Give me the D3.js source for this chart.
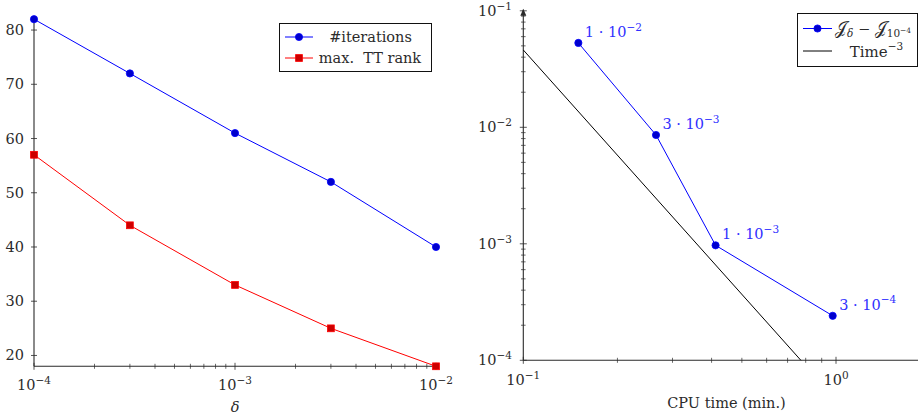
<!DOCTYPE html>
<html>
<head>
<meta charset="utf-8">
<script src="https://cdn.jsdelivr.net/npm/d3@7"></script>
<style>
  html, body { margin: 0; padding: 0; background: #fff; }
  svg { display: block; }
</style>
</head>
<body>
<svg id="chart" width="918" height="416" font-family="'DejaVu Serif', 'Liberation Serif', serif"></svg>
<script>
// ---- left panel: iterations and TT rank vs. tolerance delta ----
const deltas = [1e-4, 3e-4, 1e-3, 3e-3, 1e-2];
const iterations = [82, 72, 61, 52, 40];
const maxRank = [57, 44, 33, 25, 18];
const leftYTicks = [20, 30, 40, 50, 60, 70, 80];
const leftXTicks = [1e-4, 1e-3, 1e-2];

// ---- right panel: error vs. CPU time ----
const cpuTime = [0.150, 0.2657, 0.412, 0.976];
const errorVals = [0.053, 0.00859, 0.00097, 0.000241];
const pointMantissa = ["1", "3", "1", "3"];
const pointExponent = ["−2", "−3", "−3", "−4"];
const refTime = [0.1, 0.772];        // Time^-3 reference line endpoints
const refVal = [0.0461, 0.0001];
const rightXTicks = [0.1, 1];
const rightYTicks = [1e-4, 1e-3, 1e-2, 1e-1];

const svg = d3.select("#chart");
const blue = "#0000ff", blueFill = "#0000cc";
const red = "#ff0000", redFill = "#cc0000";
const axisCol = "#2a2a2a";
const txtCol = "#2b2b2b";
const FS = 14.5, SUP = 10.5;

function expLabel(sel, base, exp, size, supSize) {
  sel.append("tspan").attr("font-size", size).text(base);
  sel.append("tspan").attr("font-size", supSize).attr("dy", -size * 0.42).text(exp);
}

// ======== LEFT ========
const xL = d3.scaleLog().domain([1e-4, 1e-2]).range([34, 436]);
const yL = d3.scaleLinear().domain([18, 82]).range([366.3, 19.2]);
const gL = svg.append("g").attr("fill", txtCol);

gL.append("line").attr("x1", xL(1e-4)).attr("x2", xL(1e-4)).attr("y1", yL(82)).attr("y2", yL(18))
  .attr("stroke", axisCol).attr("stroke-width", 1.1);
gL.append("line").attr("x1", xL(1e-4)).attr("x2", xL(1e-2)).attr("y1", yL(18)).attr("y2", yL(18))
  .attr("stroke", axisCol).attr("stroke-width", 1.1);

leftYTicks.forEach(v => {
  gL.append("line").attr("x1", xL(1e-4) - 3).attr("x2", xL(1e-4) + 3).attr("y1", yL(v)).attr("y2", yL(v))
    .attr("stroke", axisCol).attr("stroke-width", 0.8);
  gL.append("text").attr("x", 24).attr("y", yL(v) + 5).attr("text-anchor", "end")
    .attr("font-size", FS).text(v);
});
const minorL = [];
[1e-4, 1e-3].forEach(d => { for (let k = 2; k <= 9; k++) minorL.push(d * k); });
minorL.forEach(v => {
  gL.append("line").attr("x1", xL(v)).attr("x2", xL(v)).attr("y1", yL(18) - 2.5).attr("y2", yL(18) + 2.5)
    .attr("stroke", axisCol).attr("stroke-width", 0.7);
});
leftXTicks.forEach(v => {
  gL.append("line").attr("x1", xL(v)).attr("x2", xL(v)).attr("y1", yL(18) - 3.5).attr("y2", yL(18) + 3.5)
    .attr("stroke", axisCol).attr("stroke-width", 0.8);
  const t = gL.append("text").attr("x", xL(v)).attr("y", 390).attr("text-anchor", "middle");
  expLabel(t, "10", "−" + Math.round(-Math.log10(v)), FS, SUP);
});
gL.append("text").attr("x", xL(1e-3)).attr("y", 412).attr("text-anchor", "middle")
  .attr("font-size", FS).attr("font-style", "italic").text("δ");

const lineL = (ys) => d3.line().x((d, i) => xL(deltas[i])).y(d => yL(d))(ys);
gL.append("path").attr("d", lineL(iterations)).attr("fill", "none").attr("stroke", blue).attr("stroke-width", 1);
gL.append("path").attr("d", lineL(maxRank)).attr("fill", "none").attr("stroke", red).attr("stroke-width", 1);
gL.selectAll("circle.it").data(iterations).join("circle")
  .attr("cx", (d, i) => xL(deltas[i])).attr("cy", d => yL(d)).attr("r", 3.6)
  .attr("fill", blueFill).attr("stroke", blue).attr("stroke-width", 0.8);
gL.selectAll("rect.rk").data(maxRank).join("rect")
  .attr("x", (d, i) => xL(deltas[i]) - 3.4).attr("y", d => yL(d) - 3.4)
  .attr("width", 6.8).attr("height", 6.8)
  .attr("fill", redFill).attr("stroke", red).attr("stroke-width", 0.8);

const lgL = gL.append("g");
lgL.append("rect").attr("x", 279.5).attr("y", 23.5).attr("width", 152).attr("height", 48)
  .attr("fill", "#fff").attr("stroke", "#111").attr("stroke-width", 1);
lgL.append("line").attr("x1", 285).attr("x2", 313).attr("y1", 37).attr("y2", 37).attr("stroke", blue);
lgL.append("circle").attr("cx", 299).attr("cy", 37).attr("r", 3.6).attr("fill", blueFill).attr("stroke", blue).attr("stroke-width", 0.8);
lgL.append("text").attr("x", 370.5).attr("y", 42).attr("text-anchor", "middle").attr("font-size", FS).attr("fill", txtCol).text("#iterations");
lgL.append("line").attr("x1", 285).attr("x2", 313).attr("y1", 58).attr("y2", 58).attr("stroke", red);
lgL.append("rect").attr("x", 295.6).attr("y", 54.6).attr("width", 6.8).attr("height", 6.8).attr("fill", redFill).attr("stroke", red).attr("stroke-width", 0.8);
lgL.append("text").attr("x", 370).attr("y", 63).attr("text-anchor", "middle").attr("font-size", FS).attr("fill", txtCol)
  .style("white-space", "pre").text("max.  TT rank");

// ======== RIGHT ========
const xR = d3.scaleLog().domain([0.1, 1.829]).range([523.3, 918]);
const yR = d3.scaleLog().domain([1e-4, 1e-1]).range([360.3, 10.8]);
const gR = svg.append("g").attr("fill", txtCol);

gR.append("line").attr("x1", xR(0.1)).attr("x2", xR(0.1)).attr("y1", yR(1e-4)).attr("y2", yR(1e-1) - 1)
  .attr("stroke", axisCol).attr("stroke-width", 1.1);
gR.append("path").attr("d", `M${xR(0.1) - 3},${yR(1e-1) + 5} L${xR(0.1)},${yR(1e-1) - 2} L${xR(0.1) + 3},${yR(1e-1) + 5} Z`)
  .attr("fill", axisCol);
gR.append("line").attr("x1", xR(0.1)).attr("x2", 918).attr("y1", yR(1e-4)).attr("y2", yR(1e-4))
  .attr("stroke", axisCol).attr("stroke-width", 1.1);

const minorRY = [];
[1e-4, 1e-3, 1e-2].forEach(d => { for (let k = 2; k <= 9; k++) minorRY.push(d * k); });
minorRY.forEach(v => {
  gR.append("line").attr("x1", xR(0.1) - 2.3).attr("x2", xR(0.1) + 2.3).attr("y1", yR(v)).attr("y2", yR(v))
    .attr("stroke", axisCol).attr("stroke-width", 0.7);
});
rightYTicks.forEach(v => {
  gR.append("line").attr("x1", xR(0.1) - 3.5).attr("x2", xR(0.1) + 3.5).attr("y1", yR(v)).attr("y2", yR(v))
    .attr("stroke", axisCol).attr("stroke-width", 0.8);
  const t = gR.append("text").attr("x", 512).attr("y", yR(v) + 5).attr("text-anchor", "end");
  expLabel(t, "10", "−" + Math.round(-Math.log10(v)), FS, SUP);
});
const minorRX = [];
for (let k = 2; k <= 9; k++) minorRX.push(0.1 * k);
minorRX.forEach(v => {
  gR.append("line").attr("x1", xR(v)).attr("x2", xR(v)).attr("y1", yR(1e-4) - 2.5).attr("y2", yR(1e-4) + 2.5)
    .attr("stroke", axisCol).attr("stroke-width", 0.7);
});
rightXTicks.forEach(v => {
  gR.append("line").attr("x1", xR(v)).attr("x2", xR(v)).attr("y1", yR(1e-4) - 3.5).attr("y2", yR(1e-4) + 3.5)
    .attr("stroke", axisCol).attr("stroke-width", 0.8);
  const e = Math.round(Math.log10(v));
  const t = gR.append("text").attr("x", xR(v)).attr("y", 385).attr("text-anchor", "middle");
  expLabel(t, "10", e < 0 ? "−" + (-e) : String(e), FS, SUP);
});
gR.append("text").attr("x", 726.5).attr("y", 408).attr("text-anchor", "middle")
  .attr("font-size", FS).text("CPU time (min.)");

gR.append("path").attr("d", d3.line().x((d, i) => xR(refTime[i])).y(d => yR(d))(refVal))
  .attr("fill", "none").attr("stroke", "#000").attr("stroke-width", 1);

gR.append("path").attr("d", d3.line().x((d, i) => xR(cpuTime[i])).y(d => yR(d))(errorVals))
  .attr("fill", "none").attr("stroke", blue).attr("stroke-width", 1);
gR.selectAll("circle.er").data(errorVals).join("circle")
  .attr("cx", (d, i) => xR(cpuTime[i])).attr("cy", d => yR(d)).attr("r", 3.6)
  .attr("fill", blueFill).attr("stroke", blue).attr("stroke-width", 0.8);
errorVals.forEach((d, i) => {
  const t = gR.append("text").attr("x", xR(cpuTime[i]) + 6.5).attr("y", yR(d) - 6)
    .attr("fill", "#2f2fff");
  t.append("tspan").attr("font-size", FS).text(pointMantissa[i] + " · 10");
  t.append("tspan").attr("font-size", SUP).attr("dy", -6.3).text(pointExponent[i]);
});

const lgR = gR.append("g");
lgR.append("rect").attr("x", 797.5).attr("y", 13.5).attr("width", 120).attr("height", 53)
  .attr("fill", "#fff").attr("stroke", "#111").attr("stroke-width", 1);
lgR.append("line").attr("x1", 803).attr("x2", 832).attr("y1", 28.5).attr("y2", 28.5).attr("stroke", blue);
lgR.append("circle").attr("cx", 817.5).attr("cy", 28.5).attr("r", 3.6).attr("fill", blueFill).attr("stroke", blue).attr("stroke-width", 0.8);
const jt = lgR.append("text").attr("x", 835).attr("y", 34).style("white-space", "pre");
jt.append("tspan").attr("font-size", 16.5).text("𝒥");
jt.append("tspan").attr("font-size", 10.5).attr("font-style", "italic").attr("dy", 3).text("δ");
jt.append("tspan").attr("font-size", 14.5).attr("dy", -3).text(" − ");
jt.append("tspan").attr("font-size", 16.5).text("𝒥");
jt.append("tspan").attr("font-size", 10.5).attr("dy", 3).text("10");
jt.append("tspan").attr("font-size", 7.5).attr("dy", -4.5).text("−4");
lgR.append("line").attr("x1", 803).attr("x2", 832).attr("y1", 51).attr("y2", 51).attr("stroke", "#000");
const tt = lgR.append("text").attr("x", 876.5).attr("y", 56.5).attr("text-anchor", "middle");
tt.append("tspan").attr("font-size", 15).text("Time");
tt.append("tspan").attr("font-size", SUP).attr("dy", -6.3).text("−3");
</script>
</body>
</html>
